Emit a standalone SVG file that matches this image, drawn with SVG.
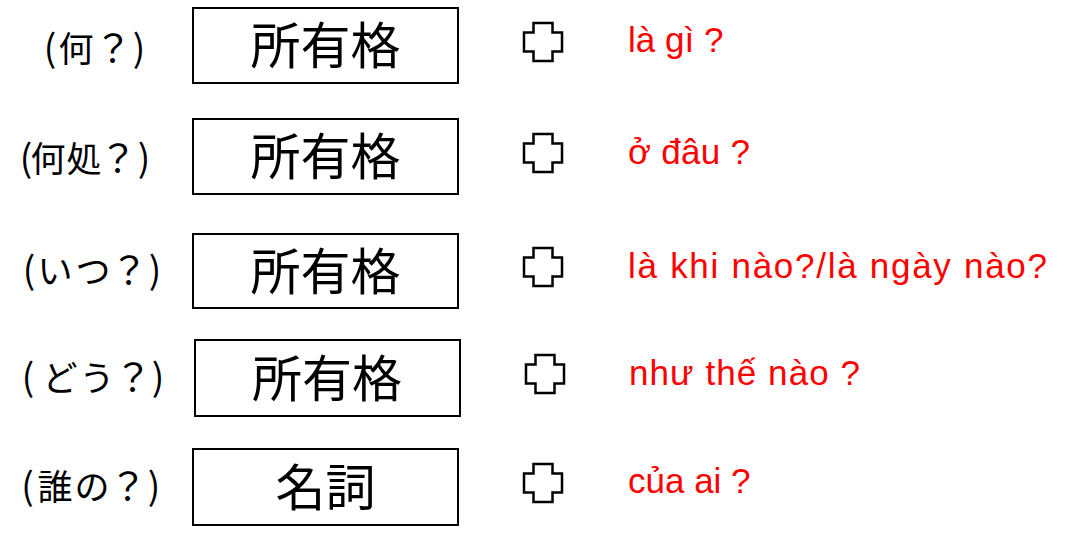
<svg xmlns="http://www.w3.org/2000/svg" xmlns:xlink="http://www.w3.org/1999/xlink" width="1070" height="547" viewBox="0 0 1070 547">
<style>
.q{font-family:"Noto Sans CJK JP","Noto Sans CJK SC",sans-serif;font-size:35px;fill:#000;text-anchor:middle}
.p{font-size:37px}
.m{font-size:38px}
.box{fill:#fff;stroke:#000;stroke-width:2}
.bt{font-family:"Noto Sans CJK JP","Noto Sans CJK SC",sans-serif;font-size:50px;fill:#000;text-anchor:middle}
.vi{font-family:"Liberation Sans","Noto Sans",sans-serif;font-size:35px;fill:#ff0000}
.plus{fill:#fff;stroke:#000;stroke-width:2.5}
</style>
<defs>
<path id="plus" class="plus" d="M9.5,0 H28.5 V9.5 H38 V28.5 H28.5 V38 H9.5 V28.5 H0 V9.5 H9.5 Z"/>
</defs>
<rect width="1070" height="547" fill="#fff"/>
<g id="row1">
<text class="q" y="62"><tspan class="p" x="50">(</tspan><tspan x="76">何</tspan><tspan class="m" x="113">？</tspan><tspan class="p" x="139">)</tspan></text>
<rect class="box" x="193" y="8" width="265" height="75"/>
<text class="bt" x="325.5" y="64">所有格</text>
<use xlink:href="#plus" x="524" y="23"/>
<text class="vi" x="628" y="52">là gì ?</text>
</g>
<g id="row2">
<text class="q" y="172"><tspan class="p" x="26">(</tspan><tspan x="48 84">何処</tspan><tspan class="m" x="118">？</tspan><tspan class="p" x="144">)</tspan></text>
<rect class="box" x="193" y="119" width="265" height="75"/>
<text class="bt" x="325.5" y="175">所有格</text>
<use xlink:href="#plus" x="524" y="134"/>
<text class="vi" x="628" y="164" textLength="122" lengthAdjust="spacing">ở đâu ?</text>
</g>
<g id="row3">
<text class="q" y="284"><tspan class="p" x="29">(</tspan><tspan x="55 93">いつ</tspan><tspan class="m" x="129">？</tspan><tspan class="p" x="155">)</tspan></text>
<rect class="box" x="193" y="234" width="265" height="74"/>
<text class="bt" x="325.5" y="290">所有格</text>
<use xlink:href="#plus" x="524" y="248"/>
<text class="vi" x="628" y="278" textLength="419" lengthAdjust="spacing">là khi nào?/là ngày nào?</text>
</g>
<g id="row4">
<text class="q" y="391"><tspan class="p" x="28">(</tspan><tspan x="60 97">どう</tspan><tspan class="m" x="133">？</tspan><tspan class="p" x="158">)</tspan></text>
<rect class="box" x="195" y="340" width="265" height="76"/>
<text class="bt" x="327" y="397">所有格</text>
<use xlink:href="#plus" x="526" y="355"/>
<text class="vi" x="629" y="385" textLength="231" lengthAdjust="spacing">như thế nào ?</text>
</g>
<g id="row5">
<text class="q" y="500"><tspan class="p" x="27.5">(</tspan><tspan x="55 92">誰の</tspan><tspan class="m" x="128">？</tspan><tspan class="p" x="154">)</tspan></text>
<rect class="box" x="193" y="449" width="265" height="76"/>
<text class="bt" x="325.5" y="506">名詞</text>
<use xlink:href="#plus" x="524" y="464"/>
<text class="vi" x="628" y="493">của ai ?</text>
</g>
<g id="connectors"></g>
</svg>
